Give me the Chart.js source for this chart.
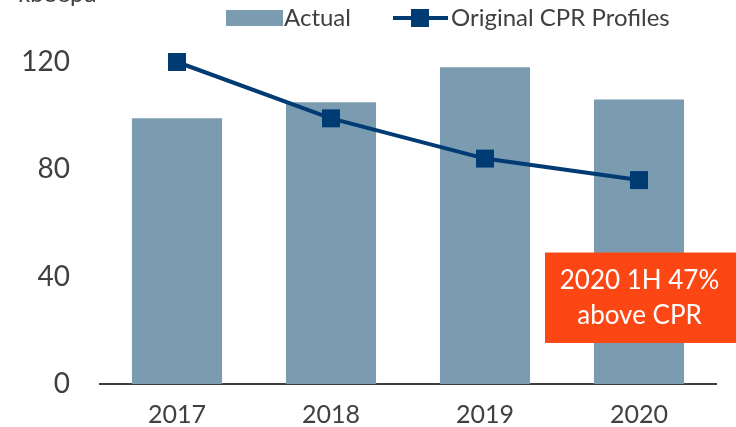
<!DOCTYPE html>
<html>
<head>
<meta charset="utf-8">
<script src="https://cdn.jsdelivr.net/npm/chart.js@4/dist/chart.umd.min.js"></script>
<style>
  html, body { margin: 0; padding: 0; background: #fff; }
  #wrap { width: 736px; height: 427px; position: relative; }
</style>
</head>
<body>
<div id="wrap"><canvas id="c" width="736" height="427"></canvas></div>
<script>
const categories = ['2017', '2018', '2019', '2020'];
const actualValues = [99, 105, 118, 106];
const cprValues = [120, 99, 84, 76];
const yTicks = [0, 40, 80, 120];
const seriesNames = ['Actual', 'Original CPR Profiles'];
const unitLabel = 'kboepd';
const noteLines = ['2020 1H 47%', 'above CPR'];

const FONT = 'Lato, "Open Sans", sans-serif';
const TEXT = '#404040';
const BAR = '#7B9BB0';
const LINE = '#003B73';
const NOTE = '#FC4613';

const overlay = {
  id: 'overlay',
  afterDraw(chart) {
    const ctx = chart.ctx;
    const x = chart.scales.x, y = chart.scales.y;
    ctx.save();
    // unit label (cut off at the top edge)
    ctx.fillStyle = TEXT;
    ctx.font = '24px ' + FONT;
    ctx.textAlign = 'left';
    ctx.textBaseline = 'alphabetic';
    ctx.fillText(unitLabel, 18, 2);
    // legend
    ctx.textBaseline = 'middle';
    const ly = 18;
    ctx.fillStyle = BAR;
    ctx.fillRect(226, 10, 57, 16);
    ctx.fillStyle = TEXT;
    ctx.fillText(seriesNames[0], 284, ly);
    ctx.strokeStyle = LINE;
    ctx.lineWidth = 4;
    ctx.beginPath();
    ctx.moveTo(393, ly); ctx.lineTo(448, ly); ctx.stroke();
    ctx.fillStyle = LINE;
    ctx.fillRect(411, 9, 18, 18);
    ctx.fillStyle = TEXT;
    ctx.fillText(seriesNames[1], 451, ly);
    // note box
    const top = y.getPixelForValue(49);
    const bot = y.getPixelForValue(15.3);
    const left = x.getPixelForValue(3) - 94;
    const right = chart.width;
    ctx.fillStyle = NOTE;
    ctx.fillRect(left, top, right - left, bot - top);
    ctx.fillStyle = '#ffffff';
    ctx.font = '26px ' + FONT;
    ctx.textAlign = 'center';
    const cx = (left + right) / 2 - 1;
    const mid = (top + bot) / 2;
    ctx.fillText(noteLines[0], cx, mid - 17);
    ctx.fillText(noteLines[1], cx, mid + 18);
    ctx.restore();
  }
};

new Chart(document.getElementById('c'), {
  data: {
    labels: categories,
    datasets: [
      {
        type: 'line',
        label: seriesNames[1],
        data: cprValues,
        borderColor: LINE,
        backgroundColor: LINE,
        borderWidth: 4,
        pointStyle: 'rect',
        pointRadius: 12.7,
        pointHoverRadius: 12.7,
        pointBackgroundColor: LINE,
        pointBorderWidth: 0,
        tension: 0,
        clip: false,
        order: 0
      },
      {
        type: 'bar',
        label: seriesNames[0],
        data: actualValues,
        backgroundColor: BAR,
        categoryPercentage: 1,
        barPercentage: 0.585,
        order: 1
      }
    ]
  },
  options: {
    responsive: false,
    animation: false,
    devicePixelRatio: 1,
    layout: { padding: { top: 62, right: 20, left: 0, bottom: 0 } },
    plugins: { legend: { display: false }, tooltip: { enabled: false } },
    scales: {
      x: {
        grid: { display: false, drawTicks: false },
        border: { display: true, color: '#404040', width: 2 },
        ticks: { color: TEXT, font: { family: FONT, size: 25 }, padding: 16 },
        afterFit(s) { s.height = 43; s.paddingLeft = 0; s.paddingRight = 0; }
      },
      y: {
        min: 0, max: 120,
        afterBuildTicks(s) { s.ticks = yTicks.map(v => ({ value: v })); },
        grid: { display: false, drawTicks: false },
        border: { display: false },
        ticks: { color: TEXT, font: { family: FONT, size: 28 }, padding: 30 },
        afterFit(s) { s.width = 100; s.paddingTop = 0; s.paddingBottom = 0; }
      }
    }
  },
  plugins: [overlay]
});
</script>
</body>
</html>
